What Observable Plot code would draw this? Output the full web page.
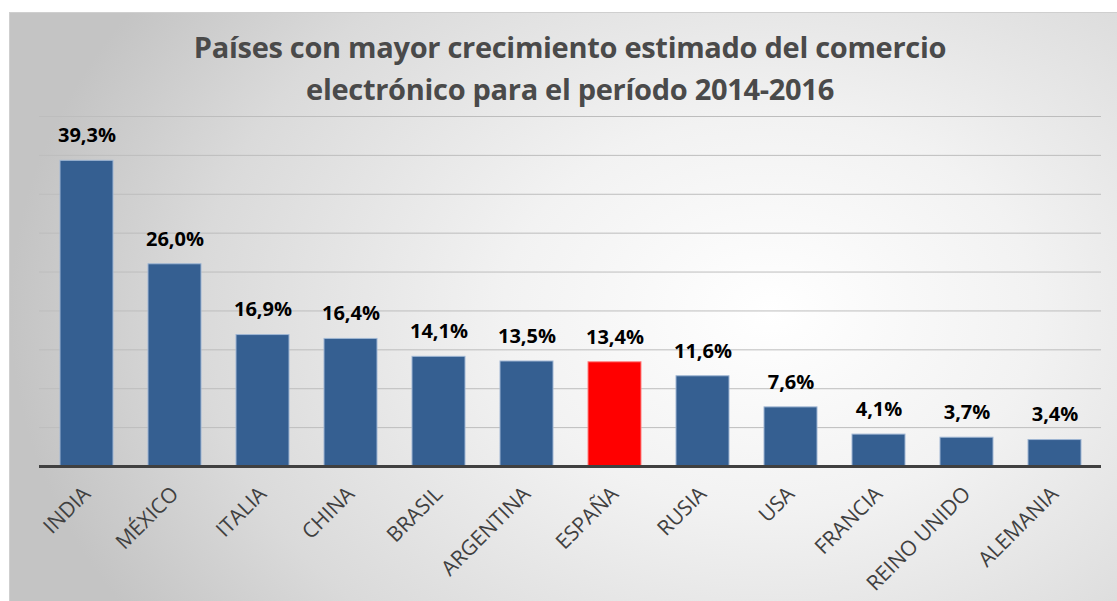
<!DOCTYPE html>
<html>
<head>
<meta charset="utf-8">
<script src="https://cdn.jsdelivr.net/npm/d3@7"></script>
<script src="https://cdn.jsdelivr.net/npm/@observablehq/plot@0.6"></script>
<style>
  html, body { margin: 0; padding: 0; background: #ffffff; }
  #wrap { position: relative; width: 1117px; height: 601px; overflow: hidden; }
  #frame {
    position: absolute; left: 9px; top: 12px; width: 1120px; height: 600px;
    border: 1px solid #cfcfcf;
    background: radial-gradient(ellipse 760px 560px at 760px 300px, #ffffff 0%, #f2f2f2 35%, #dadada 75%, #c4c4c4 100%);
  }
  #title {
    position: absolute; left: 0; top: 26px; width: 1140px; text-align: center;
    font-family: "Open Sans", sans-serif; font-weight: bold; font-size: 29px; line-height: 42px;
    color: #4a4a4a; letter-spacing: -0.3px;
  }
  #chart { position: absolute; left: 0; top: 0; }
</style>
</head>
<body>
<div id="wrap">
  <div id="frame"></div>
  <div id="title">Países con mayor crecimiento estimado del comercio<br>electrónico para el período 2014-2016</div>
  <div id="chart"></div>
</div>
<script>
const countries = ["INDIA", "MÉXICO", "ITALIA", "CHINA", "BRASIL", "ARGENTINA", "ESPAÑA", "RUSIA", "USA", "FRANCIA", "REINO UNIDO", "ALEMANIA"];
const growth = [39.3, 26.0, 16.9, 16.4, 14.1, 13.5, 13.4, 11.6, 7.6, 4.1, 3.7, 3.4];
const highlight = "ESPAÑA";
const gridTicks = [5, 10, 15, 20, 25, 30, 35, 40, 45];

const data = countries.map((c, i) => ({country: c, value: growth[i]}));
const fmt = v => v.toFixed(1).replace(".", ",") + "%";

const plot = Plot.plot({
  width: 1117,
  height: 601,
  marginLeft: 39,
  marginRight: 16,
  marginTop: 116,
  marginBottom: 135,
  style: {background: "transparent", fontFamily: "Open Sans, sans-serif"},
  x: {domain: countries, paddingInner: 0.4, paddingOuter: 0.2, label: null},
  y: {domain: [0, 45], label: null},
  marks: [
    Plot.ruleY(gridTicks, {stroke: "#bdbdbd", strokeWidth: 1}),
    Plot.barY(data, {
      x: "country", y: "value",
      fill: d => d.country === highlight ? "#ff0000" : "#355f91",
      stroke: d => d.country === highlight ? "#ff8080" : "#9fb6d3",
      strokeWidth: 1
    }),
    Plot.text(data, {
      x: "country", y: "value", text: d => fmt(d.value),
      dy: -25, fontSize: 20, fontWeight: "bold", fill: "#000000"
    }),
    Plot.ruleY([0], {stroke: "#404040", strokeWidth: 3}),
    Plot.axisX({
      tickSize: 0, tickPadding: 24, tickRotate: -45,
      fontSize: 21, fill: "#404040", label: null
    }),
    Plot.axisY({ticks: [], label: null})
  ]
});
document.getElementById("chart").appendChild(plot);
</script>
</body>
</html>
